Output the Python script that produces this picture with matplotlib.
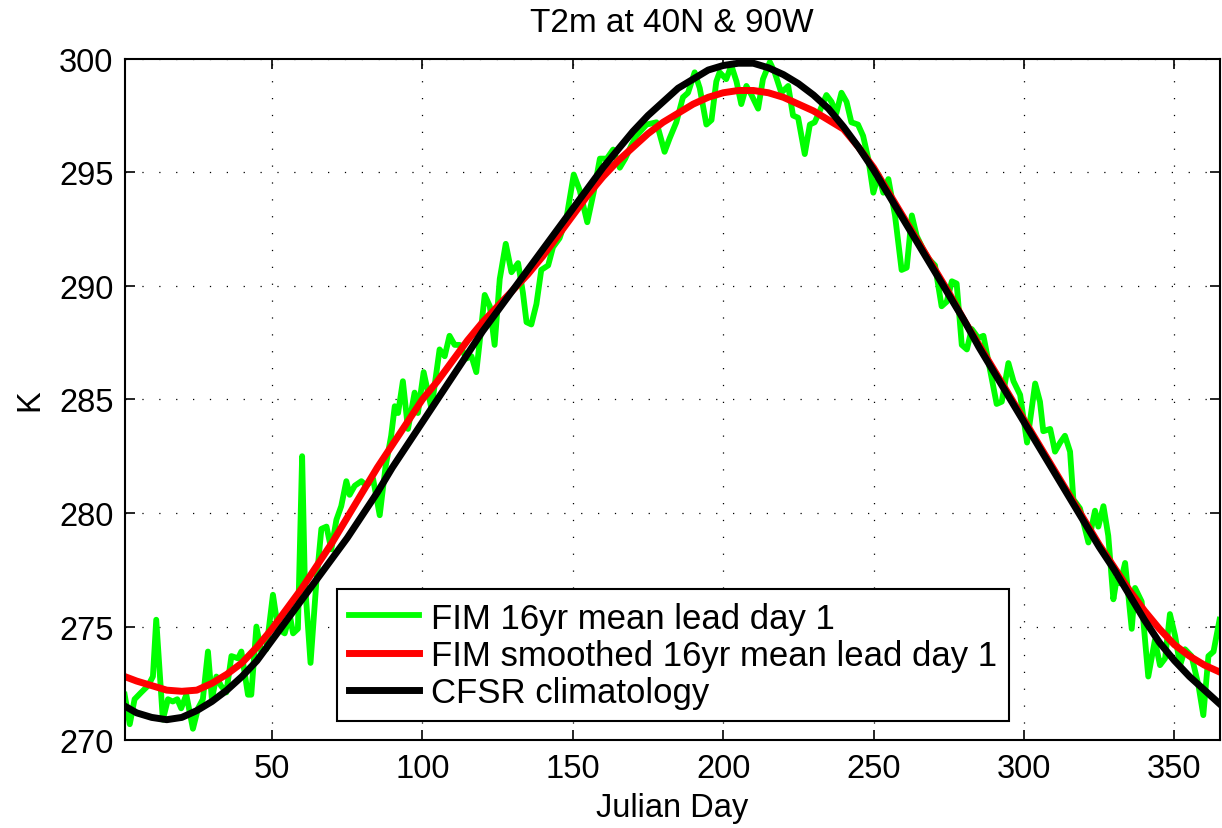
import matplotlib
matplotlib.use("Agg")
import matplotlib.pyplot as plt
import numpy as np

plt.rcParams['font.family'] = ['Liberation Sans', 'DejaVu Sans']

# FIM 16yr mean lead day 1 (at its turning points)
green_day = [1, 2.7, 4.3, 6.5, 8.8, 10.4, 11.5, 13.7, 15.4, 17, 18.5, 19.8, 21.5, 23.7, 25.4, 27,
             28.7, 30, 31.5, 33, 34.8, 36.5, 38.7, 39.8, 42, 43.1, 44.8, 46.4, 48.1, 50.3, 52, 54.2,
             55.9, 57, 58.6, 60, 60.9, 62.8, 64.7, 66.4, 68.1, 69.7, 71.4, 73, 74.7, 75.8, 77.5, 79.7,
             81.4, 83.6, 85.8, 87.7, 89.6, 90.8, 91.9, 93.5, 95.2, 97.4, 98.5, 100.4, 103, 105.7,
             107.4, 109, 110.7, 112.4, 114.6, 116.3, 117.9, 119, 120.7, 122.4, 124, 125.7, 127.7,
             129.6, 131.8, 133.4, 134.6, 136.2, 137.9, 139.5, 141.8, 143.4, 145.6, 147.9, 150.3,
             152.3, 154.8, 156.9, 159, 161.3, 163.4, 165.6, 167.4, 169.5, 171.1, 174.5, 177.8, 180.5,
             182.2, 184.4, 186.6, 188.3, 190.5, 192.2, 194.4, 196.1, 197.7, 198.8, 201, 202.7, 204.4,
             206, 207.7, 209.4, 211.6, 213.2, 215.5, 217.1, 219.3, 221.6, 223.2, 224.9, 227.1, 228.8,
             230.4, 232.1, 234.3, 236, 237.6, 239.3, 241, 242.6, 244.8, 246.5, 248.2, 249.9, 251.6,
             253.2, 254.9, 257.1, 259.3, 261, 262.7, 264.3, 266.5, 268.2, 270.4, 272.6, 274.3, 276,
             277.6, 279.3, 281, 282.6, 284.8, 286.5, 288.7, 290.9, 292.6, 294.8, 296.5, 298.7, 301,
             303.7, 305.3, 306.4, 308.7, 310.3, 312, 313.6, 315.3, 316.4, 318.6, 321.4, 323.6, 324.7,
             326.4, 328, 329.7, 330.8, 332, 333.6, 335.8, 336.9, 339.1, 341.3, 343.5, 345.2, 346.9,
             348.5, 350.2, 351.9, 353.5, 355.7, 358, 359.6, 361.3, 363, 365]
green_k = [272.0, 270.7, 271.8, 272.1, 272.4, 272.8, 275.3, 270.9, 271.8, 271.7, 271.8, 271.4, 272.0,
           270.5, 271.4, 271.8, 273.9, 271.8, 272.8, 272.4, 272.1, 273.7, 273.6, 273.9, 272.0, 272.0,
           275.0, 273.9, 274.0, 276.4, 274.9, 274.7, 275.5, 274.7, 274.9, 282.5, 277.0, 273.4, 276.9,
           279.3, 279.4, 278.4, 279.7, 280.3, 281.4, 280.8, 281.2, 281.4, 281.2, 281.5, 279.9, 282.0,
           283.4, 284.7, 284.4, 285.8, 283.7, 285.3, 284.4, 286.2, 284.6, 287.2, 286.9, 287.8, 287.4,
           287.4, 286.8, 286.9, 286.2, 287.5, 289.6, 289.1, 287.4, 290.3, 291.85, 290.6, 291.0, 289.7,
           288.4, 288.3, 289.2, 290.7, 290.9, 291.7, 292.1, 293.0, 294.9, 294.2, 292.8, 294.1, 295.6,
           295.6, 296.0, 295.2, 295.6, 296.2, 296.6, 297.1, 297.2, 295.9, 296.5, 297.2, 298.3, 298.5,
           299.4, 298.7, 297.1, 297.3, 299.0, 299.4, 299.1, 299.7, 299.0, 298.0, 298.8, 298.4, 297.8,
           299.1, 299.85, 299.4, 298.5, 298.8, 297.5, 297.4, 295.8, 297.1, 297.2, 297.7, 298.4, 298.1,
           297.6, 298.5, 298.1, 297.2, 297.1, 296.6, 295.6, 294.1, 294.9, 294.1, 294.7, 293.1, 290.7,
           290.8, 293.1, 292.2, 291.6, 291.2, 290.9, 289.1, 289.3, 290.2, 290.1, 287.4, 287.2, 288.1,
           287.7, 287.8, 286.3, 284.8, 284.9, 286.6, 285.8, 285.2, 283.1, 285.7, 284.9, 283.6, 283.7,
           282.7, 283.1, 283.4, 282.7, 280.6, 280.2, 278.7, 280.1, 279.4, 280.3, 279.0, 276.2, 277.1,
           276.9, 277.8, 274.9, 276.7, 276.1, 272.8, 274.4, 273.3, 273.6, 275.55, 274.6, 273.3, 274.0,
           273.7, 272.4, 271.1, 273.7, 273.9, 275.3]

# smoothed FIM and CFSR climatology, every 5 days
smooth_day = [1] + list(range(5, 366, 5))
red_k = [272.8, 272.6, 272.4, 272.2, 272.15, 272.2, 272.5, 272.9, 273.4, 274.1, 274.9, 275.8, 276.7,
         277.7, 278.7, 279.8, 280.9, 282.0, 283.0, 284.0, 285.0, 285.8, 286.7, 287.6, 288.4, 289.1,
         289.8, 290.5, 291.3, 292.2, 293.1, 294.0, 294.8, 295.5, 296.1, 296.7, 297.2, 297.6, 298.0,
         298.3, 298.5, 298.6, 298.6, 298.5, 298.3, 298.0, 297.7, 297.3, 296.9, 296.1, 295.2, 294.1,
         293.0, 291.9, 290.8, 289.7, 288.5, 287.4, 286.3, 285.2, 284.1, 283.0, 281.9, 280.8, 279.7,
         278.6, 277.6, 276.6, 275.7, 274.9, 274.2, 273.7, 273.3, 273.0]
black_k = [271.5, 271.2, 271.0, 270.9, 271.0, 271.3, 271.7, 272.2, 272.8, 273.5, 274.4, 275.3, 276.2,
           277.1, 278.0, 278.9, 279.9, 280.9, 282.0, 283.0, 284.0, 285.0, 286.0, 287.0, 288.0, 288.9,
           289.8, 290.7, 291.6, 292.5, 293.4, 294.3, 295.2, 296.0, 296.8, 297.5, 298.1, 298.7, 299.1,
           299.5, 299.7, 299.8, 299.8, 299.6, 299.3, 298.9, 298.4, 297.8, 297.0, 296.1, 295.1, 294.0,
           292.9, 291.8, 290.7, 289.6, 288.5, 287.3, 286.2, 285.1, 284.0, 282.9, 281.8, 280.7, 279.6,
           278.5, 277.5, 276.4, 275.3, 274.3, 273.5, 272.8, 272.2, 271.6]

labels = ["FIM 16yr mean lead day 1", "FIM smoothed 16yr mean lead day 1", "CFSR climatology"]

fig = plt.figure(figsize=(12.22, 8.29), dpi=100)
ax = fig.add_axes([0.102, 0.106, 0.896, 0.822])

ax.plot(green_day, green_k, color=(0, 1, 0), lw=4.2, label=labels[0], solid_joinstyle='round')
ax.plot(smooth_day, red_k, color=(1, 0, 0), lw=5, label=labels[1])
ax.plot(smooth_day, black_k, color='black', lw=5, label=labels[2])

ax.set_xlim(1, 365)
ax.set_ylim(270, 300)
ax.set_xticks(range(50, 351, 50))
ax.set_yticks(range(270, 301, 5))
ax.grid(True, color='black', linestyle=(0, (1, 12.5)), linewidth=0.9)
ax.tick_params(direction='in', top=True, right=True, labelsize=23.5, length=7, width=1.2)
ax.tick_params(axis='x', pad=9)
ax.tick_params(axis='y', pad=8)
for s in ax.spines.values():
    s.set_linewidth(1.5)

ax.set_title("T2m at 40N & 90W", fontsize=24, pad=20)
ax.set_xlabel("Julian Day", fontsize=23.5, labelpad=6)
ax.set_ylabel("K", fontsize=23.5, labelpad=10)

leg = ax.legend(loc='lower left', bbox_to_anchor=(0.194, 0.028), fontsize=25, fancybox=False,
                edgecolor='black', framealpha=1, handlelength=2.0, handletextpad=0.35,
                borderpad=0.35, labelspacing=0.12, borderaxespad=0)
leg.get_frame().set_linewidth(1.5)

plt.savefig("out.png", dpi=100)
